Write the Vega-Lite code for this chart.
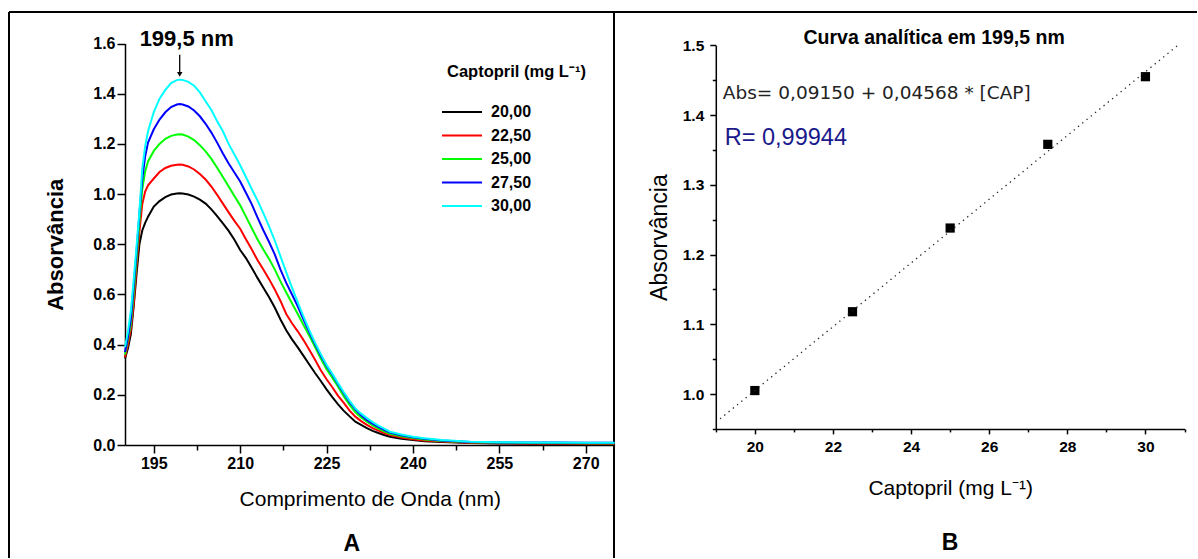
{
  "$schema": "https://vega.github.io/schema/vega-lite/v6.json",
  "background": "white",
  "padding": {"left": 8, "top": 11, "right": 0, "bottom": 0},
  "autosize": {"type": "pad"},
  "bounds": "flush",
  "spacing": 0,
  "config": {
    "font": "Liberation Sans",
    "axis": {
      "grid": false,
      "domainColor": "black",
      "domainWidth": 1.5,
      "tickColor": "black",
      "tickWidth": 1.5,
      "labelColor": "black",
      "titleColor": "black",
      "labelFont": "Liberation Sans",
      "titleFont": "Liberation Sans",
      "labelFontSize": 15,
      "labelFontWeight": "bold",
      "labelOverlap": false,
      "labelFlush": false
    }
  },
  "datasets": {
    "spectra": [
      {"nm": 190, "20,00": 0.345, "22,50": 0.350, "25,00": 0.360, "27,50": 0.370, "30,00": 0.390},
      {"nm": 190.5, "20,00": 0.385, "22,50": 0.400, "25,00": 0.420, "27,50": 0.430, "30,00": 0.450},
      {"nm": 191, "20,00": 0.440, "22,50": 0.460, "25,00": 0.480, "27,50": 0.500, "30,00": 0.530},
      {"nm": 191.5, "20,00": 0.550, "22,50": 0.560, "25,00": 0.600, "27,50": 0.630, "30,00": 0.655},
      {"nm": 192, "20,00": 0.680, "22,50": 0.710, "25,00": 0.740, "27,50": 0.770, "30,00": 0.790},
      {"nm": 192.5, "20,00": 0.800, "22,50": 0.850, "25,00": 0.890, "27,50": 0.920, "30,00": 0.930},
      {"nm": 193, "20,00": 0.855, "22,50": 0.960, "25,00": 1.020, "27,50": 1.060, "30,00": 1.100},
      {"nm": 193.5, "20,00": 0.885, "22,50": 1.010, "25,00": 1.090, "27,50": 1.150, "30,00": 1.190},
      {"nm": 194, "20,00": 0.910, "22,50": 1.035, "25,00": 1.130, "27,50": 1.205, "30,00": 1.250},
      {"nm": 195, "20,00": 0.950, "22,50": 1.062, "25,00": 1.172, "27,50": 1.258, "30,00": 1.327},
      {"nm": 196, "20,00": 0.972, "22,50": 1.088, "25,00": 1.200, "27,50": 1.297, "30,00": 1.380},
      {"nm": 197, "20,00": 0.988, "22,50": 1.104, "25,00": 1.220, "27,50": 1.326, "30,00": 1.415},
      {"nm": 198, "20,00": 0.998, "22,50": 1.113, "25,00": 1.232, "27,50": 1.347, "30,00": 1.442},
      {"nm": 199, "20,00": 1.002, "22,50": 1.117, "25,00": 1.237, "27,50": 1.357, "30,00": 1.454},
      {"nm": 199.5, "20,00": 1.003, "22,50": 1.118, "25,00": 1.238, "27,50": 1.359, "30,00": 1.456},
      {"nm": 200, "20,00": 1.002, "22,50": 1.117, "25,00": 1.237, "27,50": 1.357, "30,00": 1.455},
      {"nm": 201, "20,00": 0.998, "22,50": 1.110, "25,00": 1.229, "27,50": 1.349, "30,00": 1.447},
      {"nm": 202, "20,00": 0.990, "22,50": 1.098, "25,00": 1.215, "27,50": 1.333, "30,00": 1.432},
      {"nm": 203, "20,00": 0.978, "22,50": 1.080, "25,00": 1.195, "27,50": 1.310, "30,00": 1.405},
      {"nm": 204, "20,00": 0.962, "22,50": 1.058, "25,00": 1.170, "27,50": 1.280, "30,00": 1.370},
      {"nm": 205, "20,00": 0.939, "22,50": 1.030, "25,00": 1.140, "27,50": 1.245, "30,00": 1.335},
      {"nm": 206, "20,00": 0.912, "22,50": 0.997, "25,00": 1.105, "27,50": 1.205, "30,00": 1.290},
      {"nm": 207, "20,00": 0.883, "22,50": 0.962, "25,00": 1.068, "27,50": 1.162, "30,00": 1.250},
      {"nm": 208, "20,00": 0.853, "22,50": 0.927, "25,00": 1.030, "27,50": 1.122, "30,00": 1.200},
      {"nm": 209, "20,00": 0.818, "22,50": 0.893, "25,00": 0.992, "27,50": 1.086, "30,00": 1.158},
      {"nm": 210, "20,00": 0.777, "22,50": 0.862, "25,00": 0.955, "27,50": 1.050, "30,00": 1.115},
      {"nm": 211, "20,00": 0.745, "22,50": 0.820, "25,00": 0.910, "27,50": 1.005, "30,00": 1.068},
      {"nm": 212, "20,00": 0.706, "22,50": 0.780, "25,00": 0.865, "27,50": 0.960, "30,00": 1.020},
      {"nm": 213, "20,00": 0.666, "22,50": 0.737, "25,00": 0.820, "27,50": 0.907, "30,00": 0.975},
      {"nm": 214, "20,00": 0.628, "22,50": 0.700, "25,00": 0.780, "27,50": 0.857, "30,00": 0.925},
      {"nm": 215, "20,00": 0.590, "22,50": 0.662, "25,00": 0.742, "27,50": 0.810, "30,00": 0.872},
      {"nm": 216, "20,00": 0.548, "22,50": 0.620, "25,00": 0.700, "27,50": 0.760, "30,00": 0.815},
      {"nm": 217, "20,00": 0.500, "22,50": 0.574, "25,00": 0.652, "27,50": 0.699, "30,00": 0.752},
      {"nm": 218, "20,00": 0.457, "22,50": 0.522, "25,00": 0.608, "27,50": 0.646, "30,00": 0.688},
      {"nm": 219, "20,00": 0.421, "22,50": 0.485, "25,00": 0.565, "27,50": 0.600, "30,00": 0.627},
      {"nm": 220, "20,00": 0.389, "22,50": 0.453, "25,00": 0.522, "27,50": 0.553, "30,00": 0.568},
      {"nm": 221, "20,00": 0.355, "22,50": 0.418, "25,00": 0.478, "27,50": 0.500, "30,00": 0.512},
      {"nm": 222, "20,00": 0.321, "22,50": 0.380, "25,00": 0.435, "27,50": 0.450, "30,00": 0.458},
      {"nm": 223, "20,00": 0.287, "22,50": 0.340, "25,00": 0.390, "27,50": 0.402, "30,00": 0.408},
      {"nm": 224, "20,00": 0.255, "22,50": 0.298, "25,00": 0.345, "27,50": 0.357, "30,00": 0.362},
      {"nm": 225, "20,00": 0.222, "22,50": 0.262, "25,00": 0.302, "27,50": 0.315, "30,00": 0.320},
      {"nm": 226, "20,00": 0.191, "22,50": 0.230, "25,00": 0.268, "27,50": 0.280, "30,00": 0.284},
      {"nm": 227, "20,00": 0.162, "22,50": 0.196, "25,00": 0.232, "27,50": 0.242, "30,00": 0.246},
      {"nm": 228, "20,00": 0.136, "22,50": 0.168, "25,00": 0.193, "27,50": 0.206, "30,00": 0.210},
      {"nm": 229, "20,00": 0.114, "22,50": 0.137, "25,00": 0.160, "27,50": 0.171, "30,00": 0.176},
      {"nm": 230, "20,00": 0.093, "22,50": 0.113, "25,00": 0.130, "27,50": 0.142, "30,00": 0.146},
      {"nm": 231, "20,00": 0.080, "22,50": 0.095, "25,00": 0.110, "27,50": 0.119, "30,00": 0.125},
      {"nm": 232, "20,00": 0.067, "22,50": 0.080, "25,00": 0.093, "27,50": 0.100, "30,00": 0.107},
      {"nm": 233, "20,00": 0.056, "22,50": 0.067, "25,00": 0.078, "27,50": 0.085, "30,00": 0.091},
      {"nm": 234, "20,00": 0.048, "22,50": 0.057, "25,00": 0.065, "27,50": 0.072, "30,00": 0.077},
      {"nm": 235, "20,00": 0.040, "22,50": 0.048, "25,00": 0.054, "27,50": 0.060, "30,00": 0.065},
      {"nm": 236, "20,00": 0.033, "22,50": 0.040, "25,00": 0.045, "27,50": 0.050, "30,00": 0.053},
      {"nm": 238, "20,00": 0.025, "22,50": 0.030, "25,00": 0.035, "27,50": 0.039, "30,00": 0.042},
      {"nm": 240, "20,00": 0.020, "22,50": 0.023, "25,00": 0.028, "27,50": 0.031, "30,00": 0.033},
      {"nm": 242, "20,00": 0.015, "22,50": 0.018, "25,00": 0.022, "27,50": 0.025, "30,00": 0.027},
      {"nm": 245, "20,00": 0.012, "22,50": 0.014, "25,00": 0.016, "27,50": 0.018, "30,00": 0.020},
      {"nm": 250, "20,00": 0.008, "22,50": 0.009, "25,00": 0.011, "27,50": 0.012, "30,00": 0.013},
      {"nm": 255, "20,00": 0.006, "22,50": 0.007, "25,00": 0.009, "27,50": 0.010, "30,00": 0.011},
      {"nm": 260, "20,00": 0.005, "22,50": 0.006, "25,00": 0.008, "27,50": 0.010, "30,00": 0.010},
      {"nm": 265, "20,00": 0.005, "22,50": 0.006, "25,00": 0.008, "27,50": 0.010, "30,00": 0.010},
      {"nm": 270, "20,00": 0.004, "22,50": 0.005, "25,00": 0.007, "27,50": 0.009, "30,00": 0.009},
      {"nm": 275, "20,00": 0.004, "22,50": 0.005, "25,00": 0.007, "27,50": 0.009, "30,00": 0.009}
    ],
    "calib": [
      {"cap": 20.0, "abs": 1.005},
      {"cap": 22.5, "abs": 1.118},
      {"cap": 25.0, "abs": 1.238},
      {"cap": 27.5, "abs": 1.358},
      {"cap": 30.0, "abs": 1.455}
    ],
    "fit": [
      {"cap": 19.0, "abs": 0.9594},
      {"cap": 30.83, "abs": 1.5}
    ]
  },
  "hconcat": [
    {
      "width": 605,
      "height": 546,
      "view": {"stroke": "black", "strokeWidth": 2, "strokeDash": [1151, 605, 546, 0]},
      "layer": [
        {
          "data": {"name": "spectra"},
          "transform": [
            {"fold": ["20,00", "22,50", "25,00", "27,50", "30,00"], "as": ["conc", "abs"]}
          ],
          "mark": {"type": "line", "strokeWidth": 2},
          "encoding": {
            "x": {
              "field": "nm",
              "type": "quantitative",
              "scale": {"domain": [190, 275], "range": [116, 605.5], "nice": false, "zero": false},
              "axis": {
                "title": "Comprimento de Onda (nm)",
                "offset": -113,
                "values": [195, 202.5, 210, 217.5, 225, 232.5, 240, 247.5, 255, 262.5, 270],
                "format": "d",
                "labelExpr": "(datum.value - 195) % 15 === 0 ? datum.label : ''",
                "tickSize": {"condition": {"test": "(datum.value - 195) % 15 !== 0", "value": 5}, "value": 8},
                "labelFontSize": 16,
                "labelPadding": 2,
                "titleFontSize": 21,
                "titleFontWeight": "normal",
                "titlePadding": 17
              }
            },
            "y": {
              "field": "abs",
              "type": "quantitative",
              "scale": {"domain": [0, 1.6], "range": [433, 31.5], "nice": false},
              "axis": {
                "title": "Absorvância",
                "offset": -116,
                "values": [0, 0.1, 0.2, 0.3, 0.4, 0.5, 0.6, 0.7, 0.8, 0.9, 1.0, 1.1, 1.2, 1.3, 1.4, 1.5, 1.6],
                "format": ".1f",
                "labelExpr": "round(datum.value * 10) % 2 === 0 ? datum.label : ''",
                "tickSize": {"condition": {"test": "round(datum.value * 10) % 2 !== 0", "value": 5}, "value": 8},
                "labelFontSize": 16,
                "labelPadding": 2,
                "titleFontSize": 22,
                "titleFontWeight": "bold",
                "titlePadding": 25
              }
            },
            "color": {
              "field": "conc",
              "type": "nominal",
              "scale": {
                "domain": ["20,00", "22,50", "25,00", "27,50", "30,00"],
                "range": ["#000000", "#ff0000", "#00ff00", "#0000ff", "#00ffff"]
              },
              "legend": {
                "title": "Captopril (mg L⁻¹)",
                "orient": "none",
                "legendX": 438,
                "legendY": 52,
                "padding": 0,
                "symbolType": "M-4,0H4",
                "symbolSize": 100,
                "symbolStrokeWidth": 2,
                "symbolOffset": 7,
                "labelOffset": 21,
                "rowPadding": 7.5,
                "titlePadding": 23.5,
                "titleFont": "Liberation Sans",
                "titleFontSize": 16.5,
                "titleFontWeight": "bold",
                "titleColor": "black",
                "labelFont": "Liberation Sans",
                "labelFontSize": 16,
                "labelFontWeight": "bold",
                "labelColor": "black"
              }
            }
          }
        },
        {
          "data": {"values": [{}]},
          "mark": {"type": "rule", "color": "black", "strokeWidth": 1.3},
          "encoding": {
            "x": {"datum": 199.5, "type": "quantitative"},
            "y": {"datum": 1.555, "type": "quantitative"},
            "y2": {"datum": 1.482}
          }
        },
        {
          "data": {"values": [{}]},
          "mark": {"type": "point", "shape": "triangle-down", "filled": true, "color": "black", "size": 30, "opacity": 1},
          "encoding": {
            "x": {"datum": 199.5, "type": "quantitative"},
            "y": {"datum": 1.477, "type": "quantitative"}
          }
        },
        {
          "data": {"values": [{}]},
          "mark": {"type": "text", "text": "199,5 nm", "font": "Liberation Sans", "fontSize": 22, "fontWeight": "bold", "color": "black", "align": "center", "baseline": "middle", "dx": 7},
          "encoding": {
            "x": {"datum": 199.5, "type": "quantitative"},
            "y": {"datum": 1.617, "type": "quantitative"}
          }
        },
        {
          "data": {"values": [{}]},
          "mark": {"type": "text", "text": "A", "font": "Liberation Sans", "fontSize": 23, "fontWeight": "bold", "color": "black", "align": "center", "baseline": "middle"},
          "encoding": {
            "x": {"datum": 229.4, "type": "quantitative"},
            "y": {"datum": -0.395, "type": "quantitative"}
          }
        }
      ]
    },
    {
      "width": 583,
      "height": 546,
      "view": {"stroke": "black", "strokeWidth": 2, "strokeDash": [583, 1675]},
      "layer": [
        {
          "data": {"name": "calib"},
          "mark": {"type": "point", "shape": "square", "filled": true, "color": "black", "size": 85, "opacity": 1},
          "encoding": {
            "x": {
              "field": "cap",
              "type": "quantitative",
              "scale": {"domain": [19, 31], "range": [101.8, 570.5], "nice": false, "zero": false},
              "axis": {
                "title": "Captopril (mg L⁻¹)",
                "offset": -129.1,
                "values": [19, 20, 21, 22, 23, 24, 25, 26, 27, 28, 29, 30, 31],
                "format": "d",
                "labelExpr": "datum.value % 2 === 0 ? datum.label : ''",
                "tickSize": {"condition": {"test": "datum.value % 2 !== 0", "value": 3}, "value": 5},
                "labelFontSize": 15.5,
                "labelPadding": 6,
                "titleFontSize": 21,
                "titleFontWeight": "normal",
                "titlePadding": 22
              }
            },
            "y": {
              "field": "abs",
              "type": "quantitative",
              "scale": {"domain": [0.95, 1.5], "range": [416.9, 33.3], "nice": false, "zero": false},
              "axis": {
                "title": "Absorvância",
                "offset": -101.8,
                "values": [0.95, 1.0, 1.05, 1.1, 1.15, 1.2, 1.25, 1.3, 1.35, 1.4, 1.45, 1.5],
                "format": ".1f",
                "labelExpr": "round(datum.value * 20) % 2 === 0 ? datum.label : ''",
                "tickSize": {"condition": {"test": "round(datum.value * 20) % 2 !== 0", "value": 3.5}, "value": 6},
                "labelFontSize": 15.5,
                "labelPadding": 6,
                "titleFontSize": 23,
                "titleFontWeight": "normal",
                "titlePadding": 11
              }
            }
          }
        },
        {
          "data": {"name": "fit"},
          "mark": {"type": "line", "color": "#222222", "strokeWidth": 1.3, "strokeDash": [1.3, 4.2]},
          "encoding": {
            "x": {"field": "cap", "type": "quantitative"},
            "y": {"field": "abs", "type": "quantitative"}
          }
        },
        {
          "data": {"values": [{}]},
          "mark": {"type": "text", "text": "Curva analítica em 199,5 nm", "font": "Liberation Sans", "fontSize": 19.5, "fontWeight": "bold", "color": "black", "align": "center", "baseline": "middle"},
          "encoding": {
            "x": {"datum": 24.59, "type": "quantitative"},
            "y": {"datum": 1.511, "type": "quantitative"}
          }
        },
        {
          "data": {"values": [{}]},
          "mark": {"type": "text", "text": "Abs= 0,09150 + 0,04568 * [CAP]", "font": "DejaVu Sans", "fontSize": 18.5, "color": "#222222", "align": "left", "baseline": "middle"},
          "encoding": {
            "x": {"datum": 19.18, "type": "quantitative"},
            "y": {"datum": 1.431, "type": "quantitative"}
          }
        },
        {
          "data": {"values": [{}]},
          "mark": {"type": "text", "text": "R= 0,99944", "font": "Liberation Sans", "fontSize": 23.5, "color": "#1a1a8c", "align": "left", "baseline": "middle"},
          "encoding": {
            "x": {"datum": 19.23, "type": "quantitative"},
            "y": {"datum": 1.367, "type": "quantitative"}
          }
        },
        {
          "data": {"values": [{}]},
          "mark": {"type": "text", "text": "B", "font": "Liberation Sans", "fontSize": 23, "fontWeight": "bold", "color": "black", "align": "center", "baseline": "middle"},
          "encoding": {
            "x": {"datum": 25, "type": "quantitative"},
            "y": {"datum": 0.787, "type": "quantitative"}
          }
        }
      ]
    }
  ]
}
